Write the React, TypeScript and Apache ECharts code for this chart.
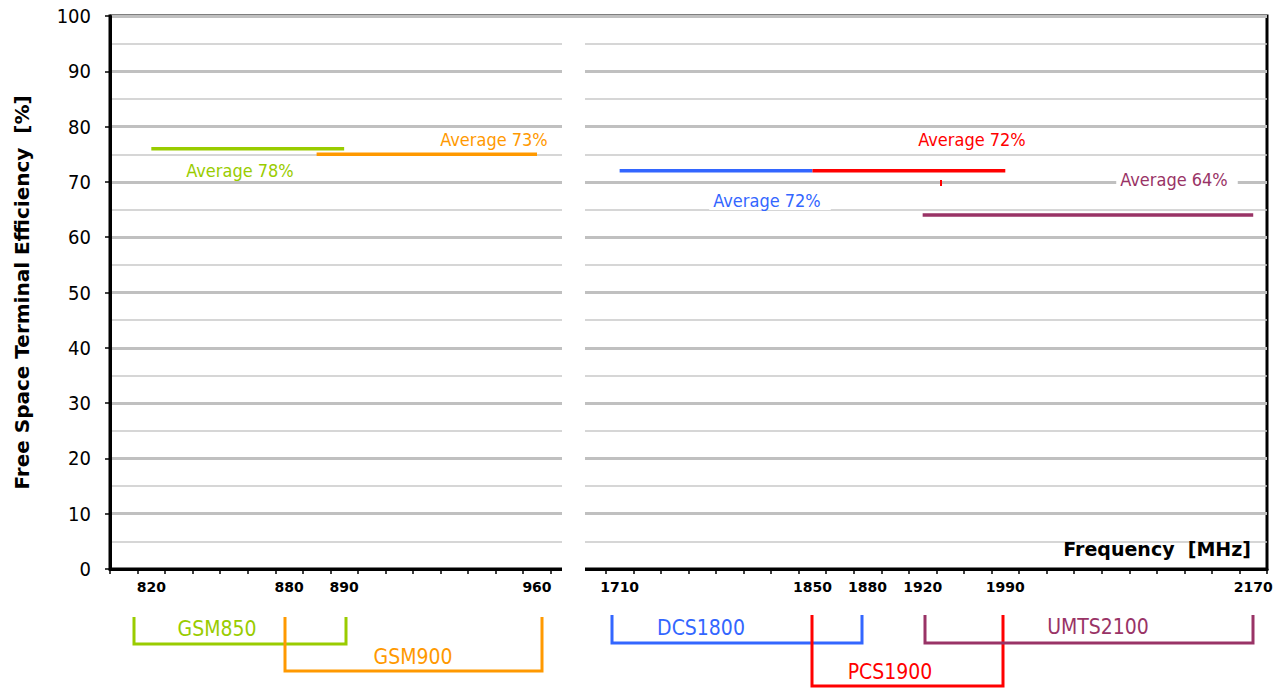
import React, { useEffect, useRef } from "react";
import * as echarts from "echarts";

const FONT = "'DejaVu Sans Condensed', 'DejaVu Sans', sans-serif";
const WIDE = "'DejaVu Sans', sans-serif";

const tickLabels = [
  "", "820", "", "", "", "", "880", "", "890", "", "", "", "", "", "", "960",
  "", "", "1710", "", "", "", "", "", "", "1850", "", "1880", "", "1920", "", "",
  "1990", "", "", "", "", "", "", "", "", "2170",
];

const gsm850 = [[1, 76], [2, 76], [3, 76], [4, 76], [5, 76], [6, 76], [7, 76], [8, 76]];
const gsm900 = [[7, 75], [8, 75], [9, 75], [10, 75], [11, 75], [12, 75], [13, 75], [14, 75], [15, 75]];
const dcs1800 = [[18, 72], [19, 72], [20, 72], [21, 72], [22, 72], [23, 72], [24, 72], [25, 72]];
const pcs1900 = [[25, 72], [26, 72], [27, 72], [28, 72], [29, 72], [30, 72], [31, 72], [32, 72]];
const umts2100 = [
  [29, 64], [30, 64], [31, 64], [32, 64], [33, 64], [34, 64], [35, 64],
  [36, 64], [37, 64], [38, 64], [39, 64], [40, 64], [41, 64],
];

const bandNames = ["GSM850", "GSM900", "DCS1800", "PCS1900", "UMTS2100"];
const averageLabels = ["Average 78%", "Average 73%", "Average 72%", "Average 72%", "Average 64%"];
const yTicks = [0, 10, 20, 30, 40, 50, 60, 70, 80, 90, 100];

const COLORS = ["#99CC00", "#FF9900", "#3366FF", "#FF0000", "#993366"];

// layout of annotations (pixels)
const avgPos = [
  [243, 170],
  [497, 139],
  [770, 200],
  [975, 139],
  [1177, 179],
];
const brackets = [
  { x1: 134, x2: 346, top: 617, bottom: 644, lx: 217, ly: 629 },
  { x1: 285, x2: 542, top: 617, bottom: 671, lx: 413, ly: 657 },
  { x1: 612, x2: 862, top: 615, bottom: 643, lx: 701, ly: 628 },
  { x1: 812, x2: 1003, top: 615, bottom: 686, lx: 890, ly: 672 },
  { x1: 925, x2: 1253, top: 615, bottom: 643, lx: 1098, ly: 627 },
];

export default function App() {
  const ref = useRef<HTMLDivElement>(null);
  useEffect(() => {
    if (!ref.current) return;
    const chart = echarts.init(ref.current, undefined, { renderer: "svg" });
    const seriesData = [gsm850, gsm900, dcs1800, pcs1900, umts2100];

    const graphic: any[] = [];
    // axis break gap
    graphic.push({
      type: "rect",
      z: 50,
      shape: { x: 562, y: 18, width: 23, height: 562 },
      style: { fill: "#ffffff" },
    });
    // small red mark
    graphic.push({
      type: "line",
      z: 60,
      shape: { x1: 941, y1: 180, x2: 941, y2: 186 },
      style: { stroke: "#FF0000", lineWidth: 2 },
    });
    graphic.push({
      type: "text",
      z: 60,
      style: {
        text: "Frequency  [MHz]",
        x: 1251,
        y: 549,
        align: "right",
        verticalAlign: "middle",
        fill: "#000",
        font: `bold 19px ${WIDE}`,
      },
    });
    averageLabels.forEach((t, i) => {
      graphic.push({
        type: "text",
        z: 60,
        style: {
          text: t,
          x: avgPos[i][0],
          y: avgPos[i][1],
          align: "center",
          verticalAlign: "middle",
          fill: COLORS[i],
          font: `18px ${FONT}`,
          backgroundColor: "#ffffff",
          padding: [1, 10, 1, 4],
        },
      });
    });
    brackets.forEach((b, i) => {
      graphic.push({
        type: "polyline",
        z: 60 + i,
        shape: {
          points: [
            [b.x1, b.top],
            [b.x1, b.bottom],
            [b.x2, b.bottom],
            [b.x2, b.top],
          ],
        },
        style: { stroke: COLORS[i], lineWidth: 3, fill: "none" },
      });
      graphic.push({
        type: "text",
        z: 70,
        style: {
          text: bandNames[i],
          x: b.lx,
          y: b.ly,
          align: "center",
          verticalAlign: "middle",
          fill: COLORS[i],
          font: `21px ${FONT}`,
        },
      });
    });

    chart.setOption({
      animation: false,
      textStyle: { fontFamily: FONT },
      grid: {
        left: 110,
        right: 20,
        top: 16,
        bottom: 119,
        show: true,
        borderColor: "#000",
        borderWidth: 3,
        backgroundColor: "transparent",
      },
      xAxis: {
        type: "category",
        data: tickLabels,
        boundaryGap: true,
        axisLine: { show: true, lineStyle: { color: "#000", width: 3 } },
        axisTick: {
          show: true,
          interval: 0,
          alignWithLabel: false,
          length: 5,
          lineStyle: { color: "#000", width: 1.5 },
        },
        axisLabel: {
          interval: 0,
          margin: 11,
          color: "#000",
          fontWeight: "bold",
          fontSize: 14,
          fontFamily: WIDE,
        },
        splitLine: { show: false },
      },
      yAxis: {
        type: "value",
        min: yTicks[0],
        max: yTicks[yTicks.length - 1],
        interval: 10,
        name: "Free Space Terminal Efficiency  [%]",
        nameLocation: "middle",
        nameGap: 78,
        nameTextStyle: { color: "#000", fontWeight: "bold", fontSize: 20, fontFamily: WIDE },
        axisLine: { show: true, lineStyle: { color: "#000", width: 3 } },
        axisTick: { show: true, length: 5, lineStyle: { color: "#000", width: 1.5 } },
        axisLabel: { color: "#000", fontSize: 20, margin: 19, fontFamily: FONT },
        splitLine: { show: true, lineStyle: { color: "#c0c0c0", width: 3 } },
        minorTick: { show: false, splitNumber: 2 },
        minorSplitLine: { show: true, lineStyle: { color: "#c8c8c8", width: 1.5 } },
      },
      series: seriesData.map((d, i) => ({
        type: "line",
        name: bandNames[i],
        data: d,
        showSymbol: false,
        symbol: "none",
        z: 3 + i,
        lineStyle: { color: COLORS[i], width: 3.5 },
        itemStyle: { color: COLORS[i] },
      })),
      graphic,
    });
    return () => chart.dispose();
  }, []);
  return (
    <div
      ref={ref}
      style={{ position: "absolute", left: 0, top: 0, width: 1287, height: 688, background: "#fff" }}
    />
  );
}
